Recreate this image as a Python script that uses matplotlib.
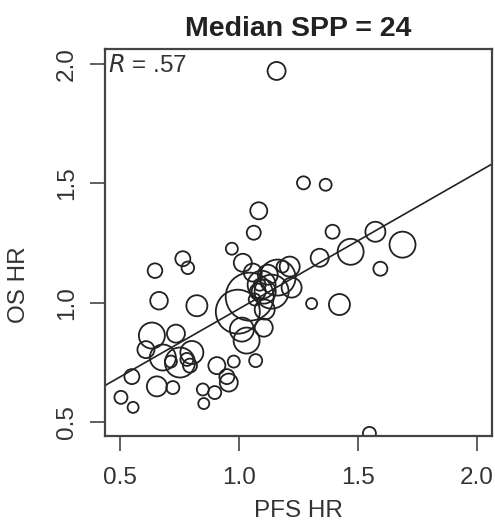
import numpy as np
import matplotlib
matplotlib.use("Agg")
import matplotlib.pyplot as plt

plt.rcParams['font.family'] = ['Liberation Sans', 'DejaVu Sans']

# trial-level hazard ratios and relative circle size (trial weight)
pfs_hr = [1.158, 1.271, 1.364, 1.083, 1.062, 1.393, 1.573, 1.469, 1.687, 1.339,
          1.594, 1.305, 1.422, 1.548, 0.970, 0.764, 0.785, 0.647, 1.016, 0.664,
          0.823, 1.032, 1.104, 1.070, 0.634, 0.735, 0.609, 0.680, 0.752, 0.802,
          0.714, 0.781, 0.794, 0.550, 0.655, 0.722, 0.504, 0.555, 0.907, 0.978,
          0.949, 0.957, 0.848, 0.898, 0.852, 1.045, 0.995, 1.095, 1.121, 1.058,
          1.213, 1.183, 1.221, 1.079, 1.104, 1.137, 1.108, 1.012, 1.066, 1.162,
          1.087]
os_hr = [1.971, 1.502, 1.494, 1.385, 1.293, 1.297, 1.297, 1.213, 1.243, 1.188,
         1.142, 0.996, 0.992, 0.452, 1.226, 1.184, 1.146, 1.134, 1.167, 1.008,
         0.987, 0.841, 0.895, 0.757, 0.862, 0.870, 0.803, 0.770, 0.749, 0.791,
         0.753, 0.762, 0.736, 0.690, 0.649, 0.644, 0.603, 0.561, 0.736, 0.753,
         0.690, 0.665, 0.636, 0.623, 0.577, 1.025, 0.962, 1.075, 1.117, 1.126,
         1.151, 1.151, 1.063, 1.046, 1.046, 1.046, 0.971, 0.887, 1.013, 1.105,
         1.075]
weight = [9, 6.5, 6, 8.5, 7, 7, 10, 13, 13, 9,
          7, 5.5, 10.5, 6.5, 6, 7.5, 6.3, 7.3, 9, 8.8,
          10.5, 13, 9, 6.5, 13, 9, 8.5, 13, 15, 11.5,
          6, 6.5, 7, 7.5, 10, 6.5, 6.5, 5.5, 8.5, 6,
          7.5, 9, 6, 6.5, 5.5, 24, 22, 14, 10, 9,
          10, 6, 10, 8, 12, 17, 10, 12, 6, 18,
          6]

fit_intercept = 0.403
fit_slope = 0.571
r_text = '.57'
median_spp = 24

fig = plt.figure(figsize=(4.95, 5.26), dpi=100)
ax = fig.add_axes([105 / 495, 1 - 436 / 526, 387 / 495, 387 / 526])

# circle radius in px -> marker area in pt^2
r_pt = np.array(weight) * 0.72
ax.scatter(pfs_hr, os_hr, s=(2 * r_pt) ** 2, facecolors='none',
           edgecolors='#222222', linewidths=1.3)
ax.axline((0, fit_intercept), slope=fit_slope, color='#222222', lw=1.2)

ax.set_xlim(0.437, 2.063)
ax.set_ylim(0.441, 2.063)
ax.set_xticks([0.5, 1.0, 1.5, 2.0])
ax.set_yticks([0.5, 1.0, 1.5, 2.0])
ax.set_xticklabels(['0.5', '1.0', '1.5', '2.0'])
ax.set_yticklabels(['0.5', '1.0', '1.5', '2.0'], rotation=90, va='center')
ax.tick_params(length=10.5, width=1.2, color='#444444', labelsize=17.5,
               labelcolor='#333333', pad=9)
ax.tick_params(axis='x', pad=11.5)
for sp in ax.spines.values():
    sp.set_linewidth(1.6)
    sp.set_color('#444444')

ax.set_xlabel('PFS HR', fontsize=17.5, color='#333333', labelpad=8)
ax.set_ylabel('OS HR', fontsize=17.5, color='#333333')
ax.yaxis.set_label_coords(-0.195, 0.39)

ax.text(0.008, 0.985, '$\\it{R}$ = ' + r_text, transform=ax.transAxes,
        ha='left', va='top', fontsize=17.5, color='#333333')
fig.text(298.5 / 495, 1 - 36 / 526, 'Median SPP = %d' % median_spp,
         ha='center', va='baseline', fontsize=20.5, fontweight='bold',
         color='#222222')

fig.savefig('out.png', dpi=100)
